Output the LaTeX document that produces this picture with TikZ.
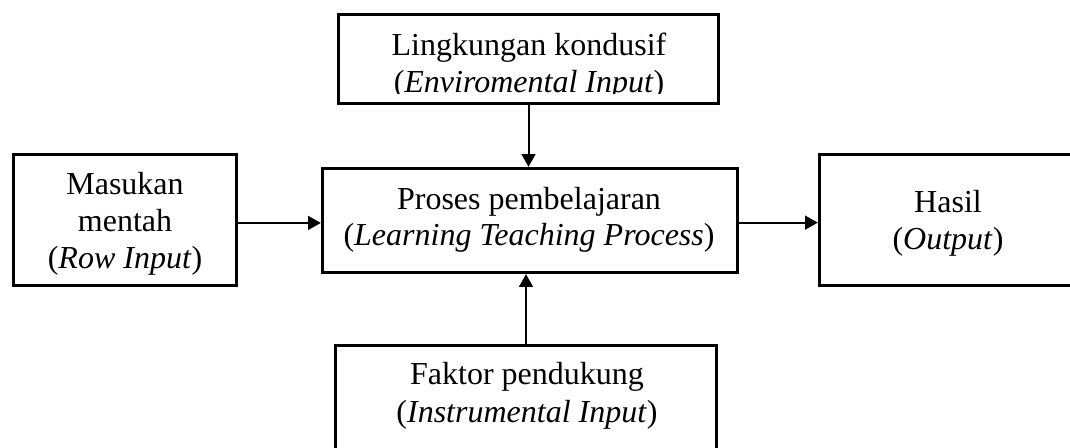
\documentclass[tikz,border=0pt]{standalone}
\usepackage{fontspec}
\setmainfont{Liberation Serif}
\usetikzlibrary{arrows.meta}
\tikzset{
  box/.style={draw=black, line width=1.25pt, inner sep=0pt, fill=none},
  txt/.style={anchor=base, inner sep=0pt, font=\fontsize{12}{14}\selectfont},
  arr/.style={draw=black, line width=0.75pt, -{Triangle[length=4.8pt,width=5.2pt]}}
}
\begin{document}
\begin{tikzpicture}[x=0.375pt, y=-0.375pt]
\useasboundingbox (0,0) rectangle (1070,448);
\clip (0,0) rectangle (1070,448);
\fill[white] (0,0) rectangle (1070,448);

% boxes
\node[box, minimum width=142.5pt, minimum height=33.375pt] (top) at (528.5,59) {};
\node[box, minimum width=83.625pt, minimum height=49.125pt] (left) at (125,220) {};
\node[box, minimum width=155.625pt, minimum height=39pt] (center) at (530,220.5) {};
\node[box, minimum width=97.7pt, minimum height=49.125pt] (right) at (949.75,220) {};
\node[box, minimum width=142.875pt, minimum height=50.4pt] (bottom) at (526,412.75) {};

% top text (clipped at bottom as in the reference)
\begin{scope}
\clip (338.5,14.5) rectangle (718.5,94);
\node[txt] (t1) at (529,56) {Lingkungan kondusif};
\node[txt] (t2) at (529,92.5) {(\textit{Enviromental Input})};
\end{scope}

% left text
\node[txt] (l1) at (125,195) {Masukan};
\node[txt] (l2) at (125,231.7) {mentah};
\node[txt] (l3) at (125,268.3) {(\textit{Row Input})};

% center text
\node[txt] (c1) at (529,209.3) {Proses pembelajaran};
\node[txt] (c2) at (529,245.8) {(\textit{Learning Teaching Process})};

% right text
\node[txt] (r1) at (948,212.7) {Hasil};
\node[txt] (r2) at (948,249.2) {(\textit{Output})};

% bottom text
\node[txt] (b1) at (527,385) {Faktor pendukung};
\node[txt] (b2) at (527,422.7) {(\textit{Instrumental Input})};

% connectors
\draw[arr] (top.south) -- (top.south |- center.north);
\draw[arr] (bottom.north) -- (bottom.north |- center.south);
\draw[arr] ([yshift=-1.1pt]left.east) -- ([yshift=-1.1pt]left.east -| center.west);
\draw[arr] ([yshift=-0.8pt]center.east) -- ([yshift=-0.8pt]center.east -| right.west);
\end{tikzpicture}
\end{document}
